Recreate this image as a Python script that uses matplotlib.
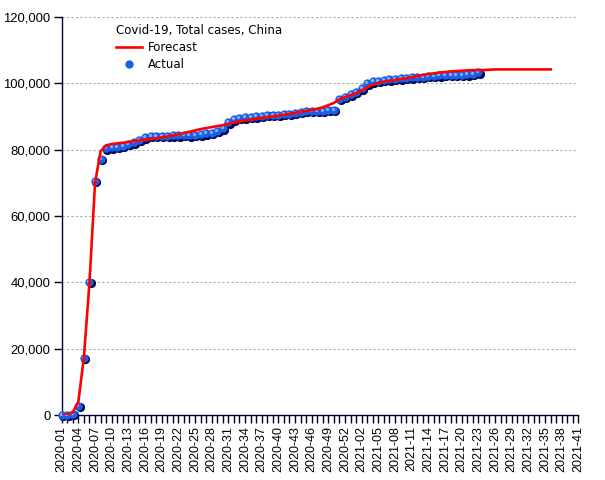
import matplotlib
matplotlib.use('agg')
import matplotlib.pyplot as plt
import matplotlib.transforms as mtransforms
from matplotlib.ticker import FuncFormatter, MultipleLocator
import numpy as np

# week labels 2020-01 .. 2021-41 (2020 has 53 iso weeks)
weeks = ["2020-%02d" % w for w in range(1, 54)] + ["2021-%02d" % w for w in range(1, 42)]

# weekly cumulative cases
actual = [50, 60, 300, 2800, 17200, 40200, 70500, 77300, 80400, 80700,
          80900, 81100, 81700, 82200, 82900, 83700, 84200, 84200, 84200, 84100,
          84300, 84300, 84400, 84300, 84400, 84600, 84900, 85100, 85600, 86400,
          88200, 89100, 89600, 89700, 89800, 90000, 90200, 90400, 90500, 90600,
          90800, 90900, 91200, 91400, 91600, 91700, 91800, 91800, 91900, 92000,
          95300, 95900, 96700, 97500, 98500, 100000, 100600, 100800, 101000, 101200,
          101300, 101500, 101700, 101800, 101900, 102000, 102200, 102300, 102400, 102500,
          102500, 102600, 102600, 102700, 102800, 103300]

forecast = [0, 200, 800, 4000, 17500, 40000, 70000, 79500, 81300, 81700,
            81900, 82100, 82300, 82600, 82800, 83000, 83200, 83400, 83700, 84000,
            84300, 84600, 85000, 85400, 85800, 86200, 86500, 86800, 87100, 87400,
            87800, 88200, 88500, 88800, 89100, 89300, 89600, 89800, 90000, 90300,
            90500, 90800, 91100, 91400, 91700, 91900, 92300, 92800, 93400, 94100,
            95200, 95800, 96400, 97000, 97800, 98800, 99600, 100100, 100500, 100800,
            101000, 101300, 101500, 101800, 102200, 102500, 102800, 103000, 103300, 103400,
            103600, 103700, 103800, 103900, 104000, 104000, 104000, 104100, 104200, 104200,
            104200, 104200, 104200, 104200, 104200, 104200, 104200, 104200, 104200]

fig = plt.figure(figsize=(6.05, 4.8), dpi=100)
ax = fig.add_axes([0.102, 0.1354, 0.854, 0.8292])

x_act = np.arange(len(actual))
x_fc = np.arange(len(forecast))

# "sphere" look: dark shadow, blue body, light highlight
shadow = mtransforms.offset_copy(ax.transData, fig=fig, x=1.3, y=-1.3, units='dots')
hilite = mtransforms.offset_copy(ax.transData, fig=fig, x=-1.0, y=1.0, units='dots')
ax.plot(x_act, actual, 'o', ms=6.6, color='#000a50', mec='none', transform=shadow, zorder=3, clip_on=False)
body, = ax.plot(x_act, actual, 'o', ms=6.0, color='#1d5ee6', mec='none', zorder=4, clip_on=False)
ax.plot(x_act, actual, 'o', ms=2.3, color='#7fb0ff', mec='none', transform=hilite, zorder=5, clip_on=False)
fc_line, = ax.plot(x_fc, forecast, color='#ff0000', lw=1.9, zorder=6)

ax.set_xlim(0, len(weeks) - 1)
ax.set_ylim(0, 120000)

navy = '#000033'
for s in ['top', 'right']:
    ax.spines[s].set_visible(False)
for s in ['left', 'bottom']:
    ax.spines[s].set_color(navy)
    ax.spines[s].set_linewidth(1.0)

ax.yaxis.set_major_locator(MultipleLocator(20000))
ax.yaxis.set_major_formatter(FuncFormatter(lambda v, p: format(int(v), ',')))
ax.set_xticks(range(0, len(weeks), 3))
ax.set_xticklabels(weeks[::3], rotation=90)
ax.set_xticks(range(len(weeks)), minor=True)
ax.tick_params(axis='x', which='both', length=6, width=1, color=navy, pad=2)
ax.tick_params(axis='y', length=6, width=1, color=navy, pad=2)
for lab in ax.get_xticklabels():
    lab.set_fontfamily('Liberation Sans')
    lab.set_fontsize(9.0)
for lab in ax.get_yticklabels():
    lab.set_fontfamily('Liberation Sans')
    lab.set_fontsize(9.4)

for v in range(20000, 120001, 20000):
    ax.axhline(v, color='#aaaaaa', lw=0.8, ls=(0, (2, 2)), zorder=1)

leg = ax.legend([fc_line, body], ['Forecast', 'Actual'], loc='upper left',
                bbox_to_anchor=(0.085, 1.01), frameon=False, title='Covid-19, Total cases, China',
                alignment='left', prop={'family': 'DejaVu Sans', 'size': 8.5},
                title_fontproperties={'family': 'DejaVu Sans', 'size': 8.5},
                handlelength=2.2, handletextpad=0.5, labelspacing=0.35)

fig.savefig('out.png', dpi=100)
